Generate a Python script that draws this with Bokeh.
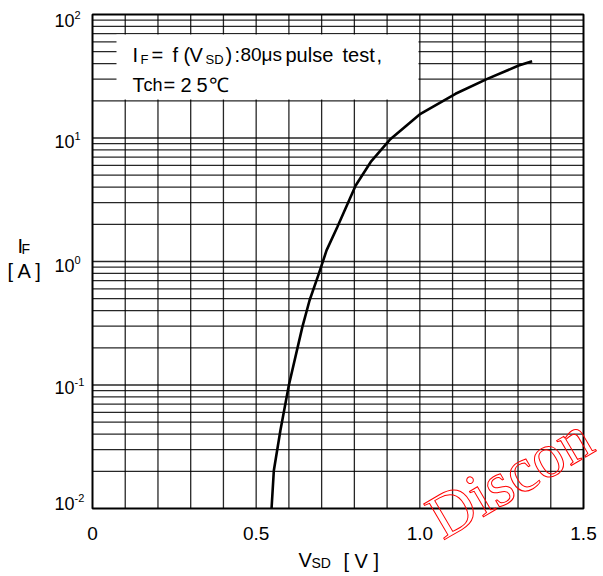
from bokeh.plotting import figure
from bokeh.models import Range1d, Label, BoxAnnotation
from bokeh.embed import file_html
from bokeh.resources import INLINE

# ---- data ----
vsd = [0.547, 0.554, 0.574, 0.600, 0.641, 0.663, 0.691, 0.715, 0.748,
       0.804, 0.850, 0.908, 0.956, 1.002, 1.109, 1.206, 1.302, 1.343]
i_f = [0.01, 0.0203, 0.0428, 0.1, 0.294, 0.483, 0.79, 1.23, 1.90,
       4.12, 6.4, 9.67, 12.4, 15.7, 22.8, 30.1, 38.6, 41.9]

x_ticks = [0, 0.5, 1.0, 1.5]
x_tick_labels = ["0", "0.5", "1.0", "1.5"]
y_ticks = [100, 10, 1, 0.1, 0.01]
y_tick_exp = ["2", "1", "0", "-1", "-2"]
x_grid = [round(0.1 * k, 1) for k in range(1, 15)]
y_grid = [m * 10.0 ** e for e in range(-2, 2) for m in range(1, 10)][1:]

# ---- layout: chart area inside the canvas (pixels) ----
W, H = 603, 576
L, R, T, B = 92, 583, 14, 508
x_lo, x_hi = x_ticks[0], x_ticks[-1]
y_lo, y_hi = min(y_ticks), max(y_ticks)

def px2x(px):
    return x_lo + (px - L) * (x_hi - x_lo) / (R - L)

def py2y(py):
    return 10 ** (2 - (py - T) * 4.0 / (B - T))

# frame covers the whole canvas so that the outside texts are drawn too
p = figure(width=W, height=H, output_backend="svg", toolbar_location=None,
           x_range=Range1d(px2x(0), px2x(W)), y_range=Range1d(py2y(H), py2y(0)),
           y_axis_type="log", min_border=0)
p.xaxis.visible = False
p.yaxis.visible = False
p.grid.visible = False
p.outline_line_color = None
p.background_fill_color = "white"
p.border_fill_color = "white"

# grid
p.segment(x0=x_grid, x1=x_grid, y0=[y_lo] * len(x_grid), y1=[y_hi] * len(x_grid),
          line_color="black", line_width=1.3, line_alpha=0.85)
p.segment(x0=[x_lo] * len(y_grid), x1=[x_hi] * len(y_grid), y0=y_grid, y1=y_grid,
          line_color="black", line_width=1.3, line_alpha=0.85)

# white box behind the test conditions
p.add_layout(BoxAnnotation(left=px2x(116), right=px2x(418), top=py2y(34), bottom=py2y(99),
                           fill_color="white", fill_alpha=1.0, line_color=None))

# curve
p.line(vsd, i_f, line_color="black", line_width=2.6)

# frame border
p.quad(left=[x_lo], right=[x_hi], bottom=[y_lo], top=[y_hi],
       fill_color=None, line_color="black", line_width=2)

FONT = "Liberation Sans"

def lab(text, px, pyc, size, align="left", font=FONT, color="black", **kw):
    """Text whose vertical middle sits at canvas pixel (px, pyc)."""
    p.add_layout(Label(x=px2x(px), y=py2y(pyc), text=text, text_font=font,
                       text_font_size=f"{size}px", text_align=align,
                       text_baseline="middle", text_color=color, **kw))

# y tick labels (10 with superscript exponent)
y_mid = [20, 141, 265, 387, 503]
for e, c in zip(y_tick_exp, y_mid):
    lab("10", 54, c, 18)
    lab(e, 74, c - 6, 11)

# x tick labels
for v, t in zip(x_ticks, x_tick_labels):
    p.add_layout(Label(x=v, y=py2y(533), text=t, text_font=FONT, text_font_size="19px",
                       text_align="center", text_baseline="middle", text_color="black"))

# axis labels
lab("V", 298, 559.5, 20)
lab("SD", 311, 562, 14)
lab("[ V ]", 343, 560, 20)
lab("I", 17, 245.5, 20)
lab("F", 21, 248, 14)
lab("[ A ]", 7, 270, 20)

# test conditions
for t, x, s in [("I", 132, 20), ("F", 140, 13), ("=", 151, 20), ("f", 172, 20),
                ("(", 183, 20), ("V", 189, 20), ("SD", 205, 13), (")", 225, 20),
                (":", 234, 20), ("80", 240, 19), ("μs", 261, 19), ("pulse", 285, 20),
                ("test", 342, 20), (",", 376, 20)]:
    lab(t, x, 58.5 if s < 15 else 54, s)
for t, x, s in [("T", 132, 20), ("ch", 143, 18), ("=", 163, 20), ("2", 180, 20),
                ("5", 196, 20), ("℃", 208, 20)]:
    lab(t, x, 84.5, s)

# red outlined watermark
p.add_layout(Label(x=px2x(432), y=py2y(522), text="Discon", angle=0.53,
                   text_font="Liberation Serif", text_font_size="63px",
                   text_align="left", text_baseline="middle",
                   text_color="rgba(0,0,0,0)", text_outline_color="red"))

open("out.html", "w").write(file_html(p, INLINE))
